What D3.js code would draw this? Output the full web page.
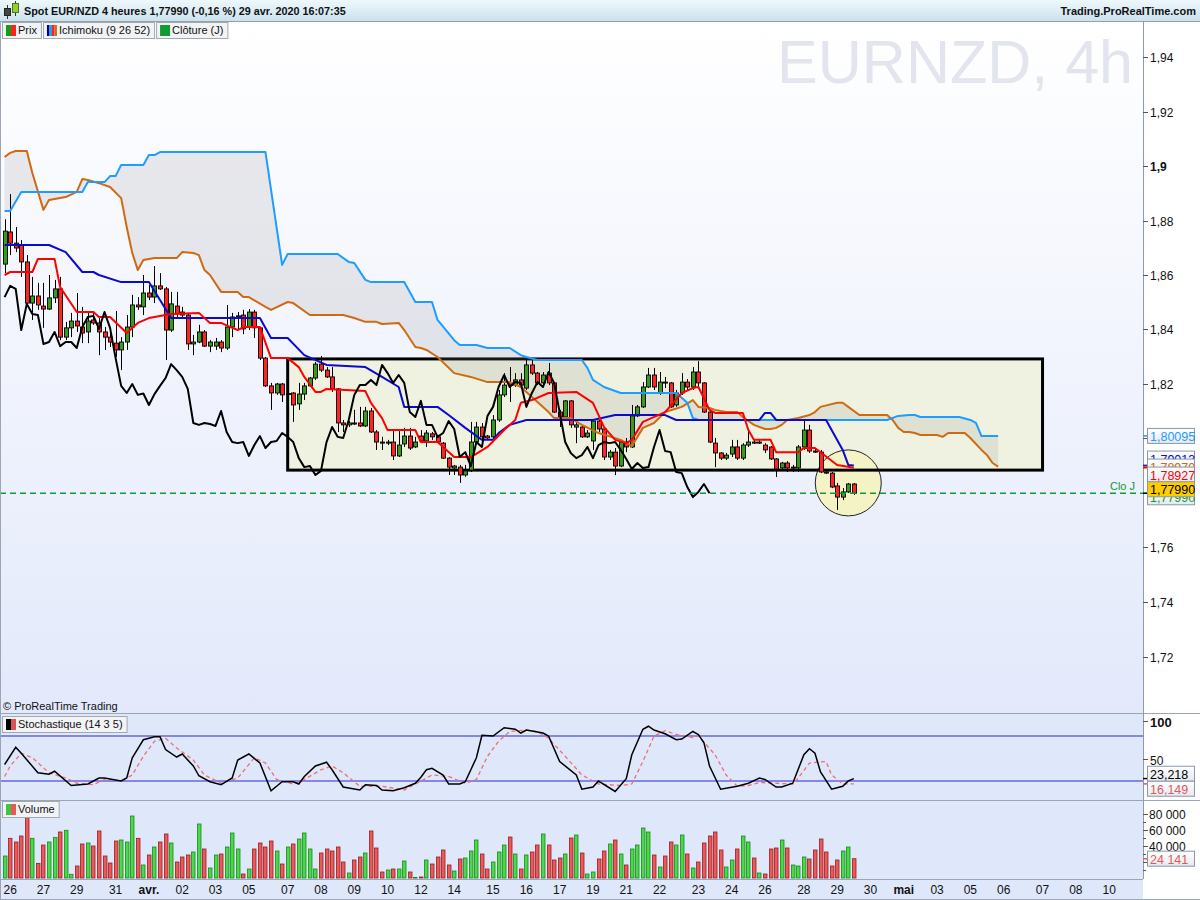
<!DOCTYPE html>
<html><head><meta charset="utf-8">
<script src="https://cdn.jsdelivr.net/npm/d3@7"></script>
<style>
body{margin:0;background:#fff;}
svg{display:block;font-family:"Liberation Sans",Arial,sans-serif;}
</style></head><body>
<svg id="c" width="1200" height="900"></svg>
<script>
// ---------------- DATA ----------------
// candles: [open, high, low, close], one per 4h bar
const candles = [
[1.8640,1.8805,1.8607,1.8761],[1.8758,1.8897,1.8673,1.8717],[1.8717,1.8776,1.8684,1.8699],[1.8710,1.8728,1.8593,1.8648],
[1.8648,1.8673,1.8483,1.8497],[1.8497,1.8593,1.8435,1.8523],[1.8523,1.8571,1.8472,1.8490],[1.8486,1.8571,1.8406,1.8475],
[1.8475,1.8600,1.8472,1.8516],[1.8516,1.8582,1.8497,1.8549],[1.8549,1.8593,1.8361,1.8372],[1.8372,1.8428,1.8361,1.8406],
[1.8406,1.8461,1.8372,1.8431],[1.8431,1.8534,1.8391,1.8413],[1.8409,1.8483,1.8350,1.8387],[1.8391,1.8461,1.8350,1.8431],
[1.8435,1.8461,1.8417,1.8424],[1.8424,1.8446,1.8306,1.8391],[1.8391,1.8409,1.8325,1.8372],[1.8372,1.8391,1.8336,1.8354],
[1.8350,1.8468,1.8299,1.8325],[1.8325,1.8372,1.8251,1.8354],[1.8354,1.8453,1.8325,1.8409],[1.8409,1.8527,1.8372,1.8490],
[1.8490,1.8519,1.8472,1.8483],[1.8483,1.8600,1.8453,1.8534],[1.8534,1.8563,1.8508,1.8519],[1.8519,1.8633,1.8497,1.8560],
[1.8560,1.8607,1.8545,1.8549],[1.8549,1.8556,1.8288,1.8398],[1.8398,1.8538,1.8391,1.8494],[1.8486,1.8538,1.8446,1.8457],
[1.8464,1.8483,1.8446,1.8453],[1.8453,1.8461,1.8325,1.8347],[1.8347,1.8380,1.8306,1.8354],[1.8354,1.8417,1.8350,1.8391],
[1.8391,1.8398,1.8336,1.8339],[1.8339,1.8361,1.8317,1.8354],[1.8339,1.8369,1.8325,1.8354],[1.8354,1.8361,1.8317,1.8332],
[1.8332,1.8490,1.8325,1.8409],[1.8409,1.8461,1.8372,1.8446],[1.8446,1.8464,1.8398,1.8450],[1.8453,1.8472,1.8383,1.8402],
[1.8409,1.8475,1.8398,1.8464],[1.8464,1.8472,1.8369,1.8406],[1.8406,1.8409,1.8288,1.8295],[1.8295,1.8299,1.8189,1.8193],
[1.8193,1.8204,1.8105,1.8167],[1.8167,1.8204,1.8160,1.8200],[1.8200,1.8204,1.8134,1.8160],[1.8162,1.8171,1.8152,1.8165],
[1.8167,1.8170,1.8061,1.8123],[1.8127,1.8204,1.8105,1.8163],[1.8163,1.8204,1.8141,1.8193],[1.8193,1.8226,1.8189,1.8222],
[1.8222,1.8281,1.8215,1.8273],[1.8273,1.8303,1.8244,1.8251],[1.8251,1.8262,1.8222,1.8226],[1.8226,1.8262,1.8171,1.8182],
[1.8182,1.8185,1.8024,1.8057],[1.8057,1.8068,1.8024,1.8050],[1.8050,1.8064,1.8042,1.8057],[1.8057,1.8105,1.8050,1.8053],
[1.8057,1.8116,1.8042,1.8046],[1.8046,1.8116,1.8042,1.8101],[1.8101,1.8112,1.8020,1.8024],[1.8024,1.8031,1.7958,1.7987],
[1.7987,1.8006,1.7958,1.7983],[1.7983,1.7995,1.7976,1.7987],[1.7987,1.8031,1.7921,1.7936],[1.7936,1.8031,1.7932,1.7976],
[1.7980,1.8039,1.7969,1.8009],[1.8009,1.8039,1.7958,1.7965],[1.7969,1.8006,1.7965,1.7987],[1.8009,1.8031,1.7983,1.7991],
[1.7991,1.8031,1.7969,1.8020],[1.8017,1.8024,1.7995,1.8006],[1.8006,1.8013,1.7983,1.7987],[1.7983,1.7987,1.7925,1.7928],
[1.7928,1.7932,1.7866,1.7895],[1.7892,1.7903,1.7866,1.7899],[1.7895,1.7903,1.7837,1.7866],[1.7866,1.7903,1.7859,1.7881],
[1.7884,1.8061,1.7877,1.7987],[1.7987,1.8061,1.7983,1.8042],[1.8042,1.8057,1.7995,1.8006],[1.8009,1.8013,1.7995,1.8002],
[1.8006,1.8086,1.8002,1.8068],[1.8068,1.8178,1.8061,1.8160],[1.8160,1.8240,1.8152,1.8196],[1.8204,1.8262,1.8134,1.8196],
[1.8196,1.8240,1.8189,1.8215],[1.8215,1.8240,1.8185,1.8196],[1.8185,1.8292,1.8178,1.8270],[1.8270,1.8295,1.8233,1.8240],
[1.8240,1.8244,1.8196,1.8204],[1.8204,1.8244,1.8189,1.8233],[1.8240,1.8277,1.8196,1.8204],[1.8204,1.8207,1.8094,1.8097],
[1.8097,1.8105,1.8042,1.8079],[1.8079,1.8141,1.8068,1.8138],[1.8138,1.8141,1.8039,1.8050],[1.8042,1.8061,1.7983,1.8050],
[1.8042,1.8050,1.8002,1.8006],[1.8006,1.8031,1.8002,1.8020],[1.7991,1.8068,1.7958,1.8064],[1.8064,1.8068,1.8024,1.8035],
[1.8035,1.8039,1.7921,1.7932],[1.7932,1.7958,1.7921,1.7950],[1.7950,1.7965,1.7866,1.7899],[1.7899,1.7995,1.7895,1.7987],
[1.7987,1.8002,1.7950,1.7969],[1.7969,1.8123,1.7965,1.8083],[1.8083,1.8123,1.8079,1.8116],[1.8116,1.8207,1.8112,1.8189],
[1.8189,1.8259,1.8185,1.8233],[1.8233,1.8259,1.8178,1.8189],[1.8167,1.8244,1.8160,1.8207],[1.8207,1.8226,1.8185,1.8204],
[1.8204,1.8207,1.8112,1.8116],[1.8123,1.8178,1.8116,1.8167],[1.8167,1.8240,1.8160,1.8207],[1.8207,1.8218,1.8178,1.8189],
[1.8189,1.8262,1.8178,1.8244],[1.8244,1.8284,1.8189,1.8204],[1.8204,1.8207,1.8094,1.8097],[1.8097,1.8105,1.7983,1.7987],
[1.7983,1.8002,1.7895,1.7947],[1.7947,1.7950,1.7921,1.7928],[1.7928,1.7947,1.7921,1.7939],[1.7943,1.7995,1.7932,1.7969],
[1.7969,1.7995,1.7921,1.7928],[1.7928,1.7983,1.7921,1.7976],[1.7976,1.8035,1.7969,1.7987],[1.7987,1.7995,1.7980,1.7983],
[1.7983,1.7995,1.7980,1.7987],[1.7976,1.7983,1.7947,1.7958],[1.7969,1.7972,1.7921,1.7925],[1.7925,1.7928,1.7859,1.7888],
[1.7892,1.7914,1.7884,1.7910],[1.7910,1.7917,1.7877,1.7892],[1.7892,1.7903,1.7877,1.7895],[1.7892,1.7976,1.7877,1.7969],
[1.7969,1.8068,1.7958,1.8031],[1.8031,1.8050,1.7947,1.7954],[1.7954,1.7965,1.7947,1.7950],[1.7950,1.7958,1.7873,1.7877],
[1.7877,1.7884,1.7870,1.7873],[1.7873,1.7877,1.7818,1.7822],[1.7826,1.7837,1.7738,1.7785],[1.7785,1.7818,1.7774,1.7804],
[1.7804,1.7837,1.7800,1.7833],[1.7833,1.7837,1.7793,1.7799]
];
const volumes = [
27500,49600,45000,52500,75400,49600,18300,41200,45000,50800,57500,59600,4600,15000,42500,43750,40000,58750,27500,18750,
46250,47500,45000,77500,49600,16250,28750,38750,45000,55000,43750,20000,26250,28750,32500,67500,36250,12500,28750,30000,
38750,56250,36250,5000,11250,36250,43750,38750,46250,33750,17500,38750,42500,48750,56250,36250,11250,31250,36250,33750,
38750,20000,6250,22500,26250,31250,58750,37500,7500,10000,11250,11250,21250,7500,500,1250,22500,17500,26250,35000,
16250,8750,23750,25000,33750,47500,30000,11250,20000,32500,41250,51250,30000,11250,28750,32500,41250,55000,41250,22500,
25000,30000,50000,53750,31250,5000,7500,23750,33750,42500,47500,30000,16250,36250,41250,62500,57500,28750,13750,27500,
45000,41250,53750,30000,12500,20000,43750,52500,57500,35000,13750,22500,36250,52500,45000,25000,6250,5000,36250,37500,
47500,37500,16250,15000,26250,23750,35000,48750,32500,15000,22500,33750,38750,24141
];
// Ichimoku lines: [bar index, price]
const tenkan = [[0,1.8600],[1,1.8611],[5,1.8611],[6,1.8659],[9,1.8659],[10,1.8556],[13,1.8464],[16,1.8464],[17,1.8446],[19,1.8446],
[22,1.8387],[24,1.8424],[26,1.8442],[30,1.8457],[35,1.8461],[37,1.8424],[39,1.8424],[41,1.8406],[42,1.8398],[43,1.8409],[46,1.8409],
[48,1.8295],[51,1.8295],[53,1.8262],[54,1.8226],[56,1.8171],[57,1.8171],[58,1.8182],[65,1.8174],[66,1.8131],[68,1.8075],[69,1.8031],
[74,1.8031],[75,1.7987],[78,1.7987],[81,1.7932],[84,1.7932],[87,1.7969],[90,1.8031],[92,1.8068],[93,1.8131],[95,1.8141],[98,1.8167],
[103,1.8171],[106,1.8131],[108,1.8042],[110,1.7995],[112,1.7983],[113,1.7995],[115,1.8061],[119,1.8097],[122,1.8167],[124,1.8185],
[125,1.8189],[127,1.8105],[128,1.8094],[133,1.8094],[134,1.8031],[135,1.7995],[138,1.7995],[139,1.7950],[143,1.7950],[144,1.7965],
[146,1.7965],[150,1.7903],[153,1.78927]];
const kijun = [[0,1.8710],[8,1.8710],[11,1.8684],[14,1.8611],[16,1.8611],[17,1.8600],[21,1.8574],[26,1.8574],[30,1.8442],[46,1.8442],
[48,1.8369],[51,1.8369],[54,1.8306],[58,1.8270],[65,1.8262],[68,1.8226],[71,1.8189],[72,1.8116],[78,1.8116],[80,1.8086],[83,1.8039],
[86,1.7995],[88,1.7995],[89,1.8020],[91,1.8050],[94,1.8068],[106,1.8068],[110,1.8086],[119,1.8086],[121,1.8068],[136,1.8068],
[137,1.8094],[138,1.8094],[139,1.8068],[148,1.8068],[149,1.8031],[151,1.7958],[152,1.7903],[153,1.79013]];
const senkouA = [[0,1.8835],[1,1.8835],[3,1.8905],[14,1.8905],[15,1.8941],[18,1.8941],[19,1.8963],[20,1.8963],[21,1.9004],[25,1.9004],
[26,1.9040],[27,1.9040],[28,1.9051],[47,1.9051],[50,1.8637],[51,1.8677],[60,1.8677],[62,1.8648],[63,1.8644],[65,1.8582],[66,1.8574],
[72,1.8574],[74,1.8501],[77,1.8501],[78,1.8435],[81,1.8361],[82,1.8343],[85,1.8343],[87,1.8332],[91,1.8332],[93,1.8306],[94,1.8299],
[96,1.8288],[104,1.8288],[105,1.8259],[106,1.8215],[108,1.8189],[111,1.8167],[121,1.8167],[123,1.8131],[124,1.8075],[125,1.8068],
[159,1.8068],[161,1.8083],[163,1.8086],[164,1.8086],[165,1.8079],[172,1.8079],[174,1.8068],[175,1.8057],[176,1.8009],[179,1.80095]];
const senkouB = [[0,1.9033],[1,1.9048],[2,1.9055],[4,1.9055],[5,1.8974],[7,1.8839],[8,1.8875],[11,1.8886],[13,1.8905],[14,1.8952],
[15,1.8949],[17,1.8937],[19,1.8923],[21,1.8882],[22,1.8776],[23,1.8681],[24,1.8618],[25,1.8655],[27,1.8662],[31,1.8662],[32,1.8684],
[34,1.8681],[35,1.8673],[36,1.8618],[37,1.8600],[39,1.8538],[42,1.8538],[43,1.8519],[44,1.8519],[47,1.8483],[48,1.8472],[51,1.8501],
[52,1.8497],[55,1.8453],[61,1.8453],[63,1.8442],[65,1.8428],[67,1.8428],[68,1.8420],[71,1.8424],[72,1.8398],[74,1.8336],[75,1.8332],
[76,1.8325],[78,1.8299],[81,1.8240],[84,1.8226],[87,1.8207],[91,1.8207],[93,1.8189],[95,1.8152],[98,1.8097],[99,1.8075],[102,1.8075],
[104,1.8050],[107,1.8020],[111,1.7995],[113,1.7972],[115,1.8039],[117,1.8057],[119,1.8097],[122,1.8116],[124,1.8141],[125,1.8116],
[127,1.8112],[128,1.8105],[130,1.8097],[132,1.8097],[133,1.8079],[135,1.8050],[137,1.8035],[138,1.8035],[139,1.8039],[140,1.8050],
[141,1.8068],[143,1.8075],[145,1.8086],[146,1.8097],[147,1.8116],[150,1.8131],[151,1.8131],[152,1.8116],[154,1.8086],[159,1.8086],
[160,1.8068],[161,1.8039],[162,1.8024],[163,1.8024],[164,1.8020],[165,1.8013],[168,1.8013],[169,1.8006],[170,1.8020],[173,1.8020],
[174,1.8002],[176,1.7958],[177,1.7939],[178,1.7910],[179,1.7897]];
const chikouShift = 26;
// Stochastic (14 3 5): [bar index, value]
const stochK = [[0,42],[2,65],[3,57],[6,31],[8,29],[9,33],[12,14],[15,16],[17,24],[18,24],[21,20],[22,24],[23,51],[25,75],[27,79],
[28,79],[29,62],[31,52],[32,56],[34,40],[35,27],[37,19],[39,15],[41,24],[42,48],[44,56],[46,44],[48,7],[50,19],[52,19],[53,16],
[54,26],[56,40],[58,45],[59,35],[61,12],[64,8],[65,15],[67,14],[68,8],[70,7],[72,11],[74,17],[75,25],[76,35],[77,37],[79,28],
[80,16],[82,16],[83,19],[85,51],[86,81],[88,80],[90,91],[92,89],[93,84],[94,88],[97,84],[98,80],[100,46],[103,28],[104,9],
[106,12],[107,20],[110,6],[112,23],[113,55],[115,89],[116,93],[117,88],[119,83],[121,75],[122,76],[124,86],[125,82],[126,71],
[127,40],[129,9],[132,13],[134,17],[136,24],[137,22],[139,12],[140,12],[142,17],[144,55],[145,63],[146,57],[147,32],[149,9],
[151,13],[152,20],[153,23.218]];
const stochD = [[0,26],[1,40],[3,57],[5,51],[8,31],[11,24],[13,17],[16,15],[18,22],[21,20],[23,28],[25,53],[27,73],[29,77],[31,64],
[34,48],[36,28],[39,17],[42,24],[45,51],[47,44],[49,22],[52,16],[54,22],[57,35],[59,40],[61,31],[64,13],[68,13],[72,8],[74,16],
[77,28],[80,26],[83,17],[85,22],[87,53],[89,73],[91,86],[94,88],[96,86],[98,77],[101,53],[104,28],[107,16],[111,14],[113,16],
[115,46],[117,80],[119,87],[121,82],[124,78],[125,80],[128,55],[130,28],[132,13],[134,14],[136,18],[139,17],[142,16],[143,24],
[145,44],[148,46],[149,28],[151,16],[153,16.149]];
const stochLevels = [80, 20];
const dateTicks = [[1,"26"],[7,"27"],[13,"29"],[20,"31"],[26,"avr."],[32,"02"],[38,"03"],[44,"05"],[51,"07"],[57,"08"],[63,"09"],
[69,"10"],[75,"12"],[81,"14"],[88,"15"],[94,"16"],[100,"17"],[106,"19"],[112,"21"],[118,"22"],[125,"23"],[131,"24"],[137,"26"],
[144,"28"],[150,"29"],[156,"30"],[162,"mai"],[168,"03"],[174,"05"],[180,"06"],[187,"07"],[193,"08"],[199,"10"]];
const boldDates = ["avr.","mai"];
const priceTicks = [1.94,1.92,1.90,1.88,1.86,1.84,1.82,1.80,1.78,1.76,1.74,1.72];
const stochTicks = [100,50];
const volumeTicks = [80000,60000,40000,20000];
const closeDaily = 1.7799;
const lastPrice = 1.7799;
const boxMark = {from:51, to:187, top:1.8292, bottom:1.7884};
const circleMark = {bar:152, price:1.7837, r:33};
const headerText = "Spot EUR/NZD 4 heures 1,77990 (-0,16 %) 29 avr. 2020 16:07:35";
const legendItems = ["Prix","Ichimoku (9 26 52)","Clôture (J)"];

// ---------------- CHART ----------------
const svg = d3.select("#c");
const PR = 1143, TOP = 21, PB = 713, SB = 800, VB = 879;
const x = d3.scaleLinear().domain([-0.83, 205.1]).range([0, PR]);
const y = d3.scaleLinear().domain([1.72, 1.94]).range([656.5, 57]);
const ys = d3.scaleLinear().domain([0, 100]).range([796, 721]);
const yv = d3.scaleLinear().domain([0, 80000]).range([878, 814]);
const fmt = v => String(+v.toFixed(5)).replace(".", ",");

const defs = svg.append("defs");
const g1 = defs.append("linearGradient").attr("id","hdr").attr("x1",0).attr("y1",0).attr("x2",0).attr("y2",1);
g1.append("stop").attr("offset","0").attr("stop-color","#eef8fc");
g1.append("stop").attr("offset","1").attr("stop-color","#cce2ee");
const g2 = defs.append("linearGradient").attr("id","pbg").attr("x1",0).attr("y1",0).attr("x2",0).attr("y2",1);
g2.append("stop").attr("offset","0").attr("stop-color","#ffffff");
g2.append("stop").attr("offset","1").attr("stop-color","#e3e9fb");
const g3 = defs.append("linearGradient").attr("id","lbl").attr("x1",0).attr("y1",0).attr("x2",0).attr("y2",1);
g3.append("stop").attr("offset","0").attr("stop-color","#ffffff");
g3.append("stop").attr("offset","1").attr("stop-color","#e4e9f0");
defs.append("clipPath").attr("id","cp").append("rect").attr("x",0).attr("y",TOP).attr("width",PR).attr("height",PB-TOP);
defs.append("clipPath").attr("id","cs").append("rect").attr("x",0).attr("y",PB).attr("width",PR).attr("height",SB-PB);

// backgrounds
svg.append("rect").attr("x",0).attr("y",0).attr("width",1200).attr("height",900).attr("fill","#fff");
svg.append("rect").attr("x",0).attr("y",TOP).attr("width",PR).attr("height",PB-TOP).attr("fill","url(#pbg)");
svg.append("rect").attr("x",0).attr("y",PB).attr("width",PR).attr("height",VB-PB).attr("fill","#dfe7fb");
svg.append("rect").attr("x",0).attr("y",VB).attr("width",PR).attr("height",900-VB).attr("fill","#dfe7fb");

// watermark
svg.append("text").attr("x",1133).attr("y",83).attr("text-anchor","end").attr("font-size",61)
  .attr("fill","#e3e5ee").text("EURNZD, 4h");

// ---- price panel ----
const pp = svg.append("g").attr("clip-path","url(#cp)");
pp.append("rect").attr("x",x(boxMark.from)).attr("y",y(boxMark.top))
  .attr("width",x(boxMark.to)-x(boxMark.from)).attr("height",y(boxMark.bottom)-y(boxMark.top))
  .attr("fill","#eff1e1");
pp.append("circle").attr("cx",x(circleMark.bar)).attr("cy",y(circleMark.price)).attr("r",circleMark.r)
  .attr("fill","#f3f3c6").attr("stroke","#222").attr("stroke-width",1);
pp.append("rect").attr("x",x(boxMark.from)).attr("y",y(boxMark.top))
  .attr("width",x(boxMark.to)-x(boxMark.from)).attr("height",y(boxMark.bottom)-y(boxMark.top))
  .attr("fill","none").attr("stroke","#000").attr("stroke-width",3);

// cloud
const ln = d3.line().x(d=>x(d[0])).y(d=>y(d[1]));
const cloudPath = ln(senkouA) + "L" + ln(senkouB.slice().reverse()).slice(1) + "Z";
pp.append("path").attr("d",cloudPath).attr("fill","#8a8a8a").attr("fill-opacity",0.16);

// candles
const cg = pp.append("g");
candles.forEach((c,i)=>{
  const up = c[3] >= c[0];
  const cx = Math.round(x(i)) + 0.5;
  cg.append("line").attr("x1",cx).attr("x2",cx).attr("y1",y(c[1])).attr("y2",y(c[2]))
    .attr("stroke","#000").attr("stroke-width",1);
  const top = y(Math.max(c[0],c[3])), bot = y(Math.min(c[0],c[3]));
  cg.append("rect").attr("x",cx-2).attr("y",top).attr("width",4).attr("height",Math.max(1,bot-top))
    .attr("fill",up?"#3a9a1e":"#ff2424").attr("stroke","#000").attr("stroke-width",0.9);
});

// ichimoku lines
const chikou = candles.slice(chikouShift).map((c,k)=>[k, c[3]]);
const lineStyle = [[senkouB,"#d06a10"],[senkouA,"#1e9cff"],[kijun,"#0a0ad0"],[tenkan,"#ff0000"],[chikou,"#000000"]];
lineStyle.forEach(([d,col])=>{
  pp.append("path").attr("d",ln(d)).attr("fill","none").attr("stroke",col).attr("stroke-width",2)
    .attr("stroke-linejoin","round");
});
svg.append("line").attr("x1",0).attr("x2",PR).attr("y1",y(closeDaily)).attr("y2",y(closeDaily))
  .attr("stroke","#119933").attr("stroke-width",1.6).attr("stroke-dasharray","6,4");
svg.append("text").attr("x",1135).attr("y",y(closeDaily)-3).attr("text-anchor","end").attr("font-size",11)
  .attr("fill","#119933").text("Clo J");

// ---- stochastic panel ----
const sp = svg.append("g").attr("clip-path","url(#cs)");
stochLevels.forEach(v=>{
  sp.append("line").attr("x1",0).attr("x2",PR).attr("y1",ys(v)).attr("y2",ys(v)).attr("stroke","#2a2ad0").attr("stroke-width",1.2);
});
const lns = d3.line().x(d=>x(d[0])).y(d=>ys(d[1]));
sp.append("path").attr("d",lns(stochD)).attr("fill","none").attr("stroke","#f07070").attr("stroke-width",1.3).attr("stroke-dasharray","4,3");
sp.append("path").attr("d",lns(stochK)).attr("fill","none").attr("stroke","#000").attr("stroke-width",1.5);

// ---- volume panel ----
volumes.forEach((v,i)=>{
  const c = candles[i]; const up = c[3] >= c[0];
  const cx = Math.round(x(i));
  svg.append("rect").attr("x",cx-1.5).attr("y",yv(v)).attr("width",3.5).attr("height",Math.max(0.5,yv(0)-yv(v)))
    .attr("fill",up?"#4cd84c":"#ea5a5a").attr("stroke",up?"#168a16":"#9a1c1c").attr("stroke-width",0.8);
});

// ---- frames / separators ----
svg.append("rect").attr("x",0).attr("y",0).attr("width",1200).attr("height",TOP).attr("fill","url(#hdr)");
svg.append("line").attr("x1",0).attr("x2",1200).attr("y1",TOP+0.5).attr("y2",TOP+0.5).attr("stroke","#8fa2ae");
[PB, SB].forEach(yy=>svg.append("line").attr("x1",0).attr("x2",1200).attr("y1",yy+0.5).attr("y2",yy+0.5).attr("stroke","#9aa6b6").attr("stroke-width",1.2));
svg.append("line").attr("x1",0).attr("x2",PR).attr("y1",VB+0.5).attr("y2",VB+0.5).attr("stroke","#9aa6b6");
svg.append("line").attr("x1",PR+0.5).attr("x2",PR+0.5).attr("y1",TOP).attr("y2",VB).attr("stroke","#8c9bb0");
svg.append("line").attr("x1",0.5).attr("x2",0.5).attr("y1",TOP).attr("y2",900).attr("stroke","#9aa6b6");
svg.append("line").attr("x1",0).attr("x2",1200).attr("y1",899.5).attr("y2",899.5).attr("stroke","#9aa6b6");

// header
const hi = svg.append("g");
hi.append("line").attr("x1",7.5).attr("x2",7.5).attr("y1",5).attr("y2",19).attr("stroke","#333");
hi.append("rect").attr("x",4.5).attr("y",8.5).attr("width",6).attr("height",7).attr("fill","#444").attr("stroke","#222");
hi.append("line").attr("x1",15.5).attr("x2",15.5).attr("y1",1).attr("y2",16).attr("stroke","#333");
hi.append("rect").attr("x",12.5).attr("y",3.5).attr("width",6).attr("height",9).attr("fill","#9c3").attr("stroke","#4a7a10");
svg.append("text").attr("x",24).attr("y",15).attr("font-size",10.8).attr("font-weight","bold").attr("fill","#111").text(headerText);
svg.append("text").attr("x",1196).attr("y",15).attr("text-anchor","end").attr("font-size",11).attr("font-weight","bold").attr("fill","#111").text("Trading.ProRealTime.com");

// legend boxes
function legendBox(x0, y0, label, colors){
  const gg = svg.append("g");
  const t = gg.append("text").attr("x",x0+16).attr("y",y0+12).attr("font-size",11).attr("fill","#111").text(label);
  const w = t.node().getComputedTextLength() + 20;
  gg.insert("rect","text").attr("x",x0+0.5).attr("y",y0+0.5).attr("width",w).attr("height",16)
    .attr("fill","#f2f3f5").attr("stroke","#a4a8b0");
  const sw = 10/colors.length;
  colors.forEach((c,k)=>gg.append("rect").attr("x",x0+4+k*sw).attr("y",y0+3).attr("width",sw).attr("height",11).attr("fill",c));
  return w;
}
let lx = 2;
const legendColors = [["#10a010","#ff2020"],["#000080","#1e9cff","#ff2020","#d06a10"],["#119933"]];
legendItems.forEach((t,k)=>{ lx += legendBox(lx, 22, t, legendColors[k]) + 2; });
legendBox(2, 716, "Stochastique (14 3 5)", ["#000","#e05050"]);
legendBox(2, 801, "Volume", ["#3cc83c","#e85858"]);
svg.append("text").attr("x",3).attr("y",710).attr("font-size",11).attr("fill","#111").text("© ProRealTime Trading");

// value labels (computed first so covered tick labels can be skipped)
function placeLabels(items, sep){
  for (let it=0; it<200; it++){
    for (let k=1;k<items.length;k++){
      const d = sep - (items[k].y - items[k-1].y);
      if (d > 0){ items[k-1].y -= d/2; items[k].y += d/2; }
    }
  }
}
const pLabels = [
  {v:senkouA[senkouA.length-1][1], color:"#1e9cff"},
  {v:kijun[kijun.length-1][1], color:"#0a0ad0"},
  {v:senkouB[senkouB.length-1][1], color:"#d06a10"},
  {v:tenkan[tenkan.length-1][1], color:"#ff0000"},
  {v:lastPrice, color:"#000", bg:"#ffcc00"},
  {v:closeDaily, color:"#119933"}
].map(d=>Object.assign(d,{y:y(d.v), vy:y(d.v), text:d3.format(".5f")(d.v).replace(".",",")}));
placeLabels(pLabels, 8);
const sLabels = [
  {v:stochK[stochK.length-1][1], color:"#000"},
  {v:stochD[stochD.length-1][1], color:"#e05a5a"}
].map(d=>Object.assign(d,{y:ys(d.v), vy:ys(d.v), text:d3.format(".3f")(d.v).replace(".",",")}));
placeLabels(sLabels, 15);
const vLast = volumes[volumes.length-1];
const vLabels = [{v:vLast, color:"#e05a5a", y:yv(vLast), vy:yv(vLast), text:d3.format(",")(vLast).replace(","," ")}];
const covered = (yy, labels) => labels.some(l => Math.abs(l.y - yy) < 10);

// price axis
priceTicks.forEach(v=>{
  const yy = Math.round(y(v))+0.5;
  svg.append("line").attr("x1",PR).attr("x2",PR+5).attr("y1",yy).attr("y2",yy).attr("stroke","#555");
  if (covered(yy, pLabels)) return;
  const bold = Math.abs(v*10 - Math.round(v*10)) < 1e-6;
  svg.append("text").attr("x",PR+7).attr("y",yy+4).attr("font-size",12).attr("font-weight",bold?"bold":"normal")
    .attr("fill","#111").text(fmt(v));
});
// stoch axis
stochTicks.forEach(v=>{
  const yy = Math.round(ys(v))+0.5;
  svg.append("line").attr("x1",PR).attr("x2",PR+5).attr("y1",yy).attr("y2",yy).attr("stroke","#555");
  if (covered(yy, sLabels)) return;
  svg.append("text").attr("x",PR+7).attr("y",yy+5).attr("font-size",v===100?13:12).attr("font-weight",v===100?"bold":"normal")
    .attr("fill","#111").text(v);
});
// volume axis
d3.range(10000, 90000, 10000).forEach(v=>{
  const yy = Math.round(yv(v))+0.5;
  svg.append("line").attr("x1",PR).attr("x2",PR+(v%20000===0?5:3)).attr("y1",yy).attr("y2",yy).attr("stroke","#555");
});
volumeTicks.forEach(v=>{
  const yy = Math.round(yv(v))+0.5;
  if (covered(yy, vLabels)) return;
  svg.append("text").attr("x",PR+6).attr("y",yy+4).attr("font-size",12).attr("fill","#111")
    .text(d3.format(",")(v).replace(",", " "));
});

function drawLabels(items, order){
  order.forEach(k=>{
    const d = items[k];
    svg.append("line").attr("x1",PR).attr("x2",PR+5).attr("y1",d.vy).attr("y2",d.vy).attr("stroke",d.color).attr("stroke-width",1.5);
    svg.append("rect").attr("x",PR+4.5).attr("y",d.y-7.5).attr("width",47).attr("height",15)
      .attr("fill",d.bg||"url(#lbl)").attr("stroke","#8a98a8");
    svg.append("text").attr("x",PR+7).attr("y",d.y+5).attr("font-size",12.5).attr("fill",d.tc||d.color).text(d.text);
  });
}
drawLabels(pLabels, [1,2,0,3,5,4]);
drawLabels(sLabels, [0,1]);
drawLabels(vLabels, [0]);

// date axis
dateTicks.forEach(([i,t])=>{
  svg.append("text").attr("x",x(i)).attr("y",894).attr("text-anchor","middle").attr("font-size",12)
    .attr("font-weight",boldDates.includes(t)?"bold":"normal").attr("fill","#111").text(t);
});
</script>
</body></html>
